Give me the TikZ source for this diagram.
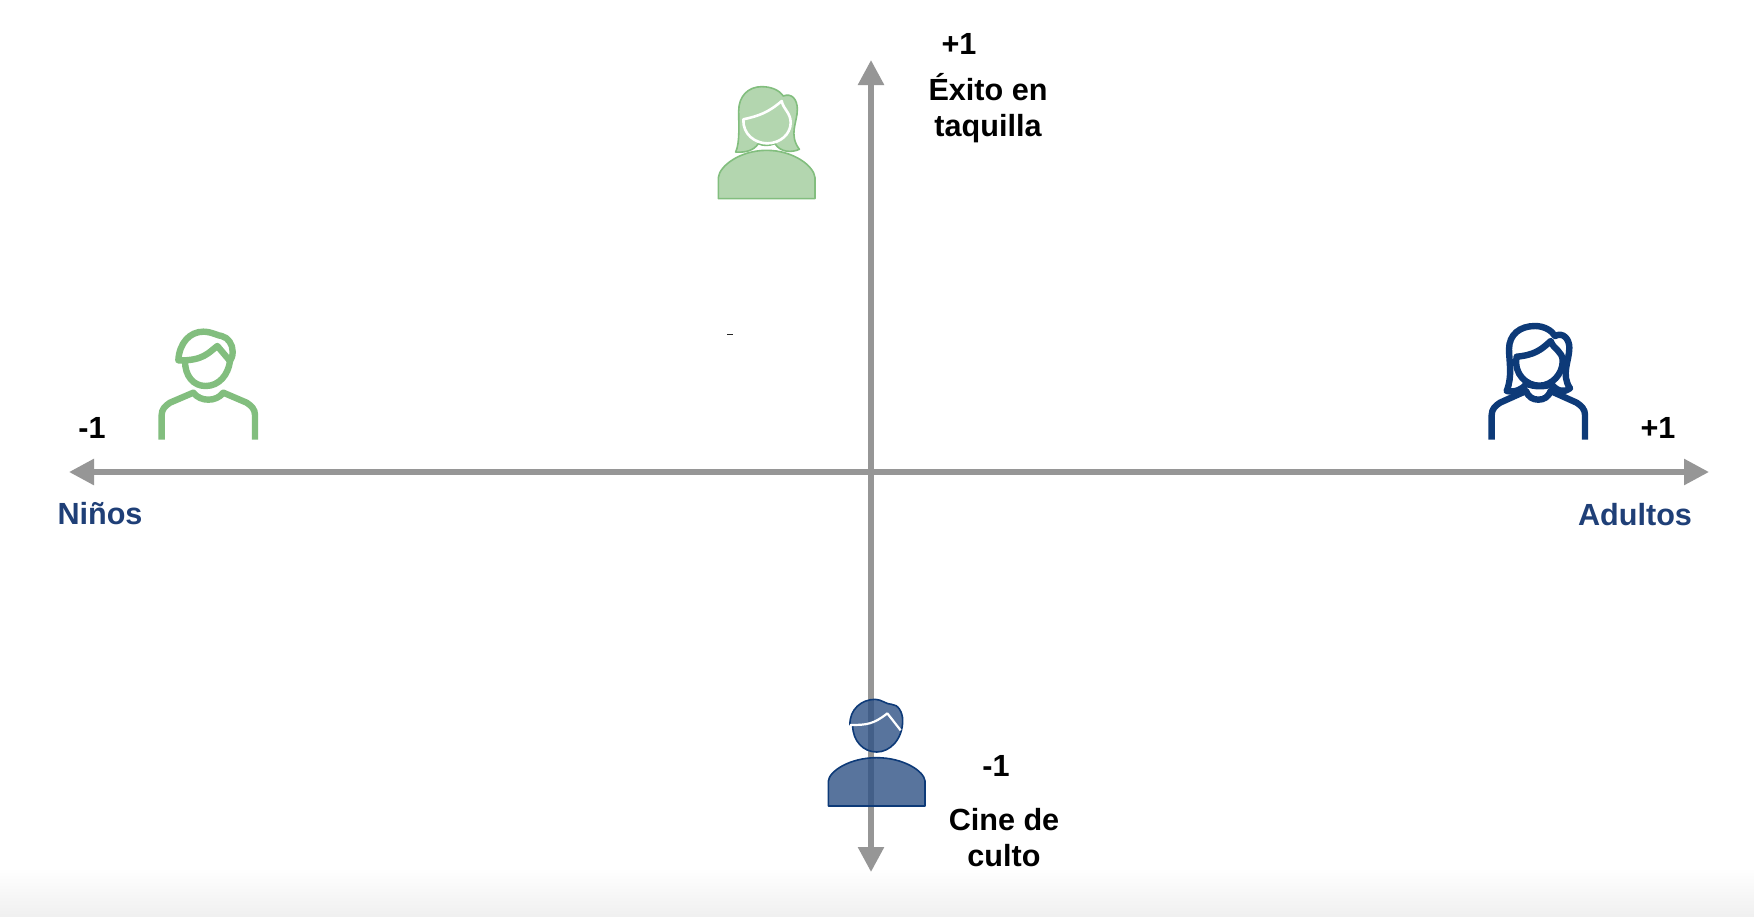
\documentclass[tikz,border=0pt]{standalone}
\usepackage{fontspec}
\setmainfont{Liberation Sans}
\usetikzlibrary{arrows.meta}
\definecolor{axisgray}{HTML}{969696}
\definecolor{lgreen}{HTML}{82BE7E}
\definecolor{fgreen}{HTML}{B3D6AF}
\definecolor{dblue}{HTML}{0D3A78}
\definecolor{fblue}{HTML}{2F5285}
\definecolor{lblue}{HTML}{1F3F77}
\tikzset{
  axisline/.style={draw=axisgray,line width=2.8pt,-{Triangle[length=12.5pt,width=12.5pt]},
    shorten >=0pt},
  lab/.style={font=\fontsize{15.3}{18}\selectfont\bfseries,anchor=base,inner sep=0pt,text=black},
  bluelab/.style={lab,text=lblue},
  zoomed/.style={x=0.16667pt,y=-0.16667pt},
  iconline/.style={line width=3.2pt,line join=round,line cap=butt,fill=none},
  softicon/.style={line width=0.8pt,line join=round}
}
\begin{document}
\begin{tikzpicture}[x=0.5pt,y=-0.5pt]
\useasboundingbox (0,0) rectangle (1754,916);
\fill[white] (0,0) rectangle (1754,916);
\shade[top color=white,bottom color=black!6,draw=none] (0,868) rectangle (1754,916);

% axes
\coordinate (xl) at (69,472);
\coordinate (xr) at (1709,472);
\coordinate (yt) at (871,60);
\coordinate (yb) at (871,872);
\coordinate (origin) at (871,472);
\draw[axisline] (origin) -- (xl);
\draw[axisline] (origin) -- (xr);
\draw[axisline] (origin) -- (yt);
\draw[axisline] (origin) -- (yb);

% top: filled green woman
\begin{scope}[shift={(690,71)},zoomed]
  \path[fill=fgreen,draw=lgreen,softicon]
    (85,383) -- (85,320) .. controls (88,285) and (150,238) .. (230,238)
    .. controls (310,238) and (372,285) .. (375,320) -- (375,383) -- cycle;
  \path[fill=fgreen,draw=lgreen,softicon]
    (137,243) .. controls (150,215) and (146,160) .. (146,120)
    .. controls (146,75) and (175,47) .. (215,47)
    .. controls (245,47) and (268,58) .. (280,75)
    .. controls (305,65) and (322,85) .. (322,115)
    .. controls (322,155) and (295,190) .. (328,235)
    .. controls (305,245) and (272,245) .. (255,218)
    .. controls (235,225) and (220,225) .. (205,218)
    .. controls (190,240) and (165,245) .. (137,243) -- cycle;
  \draw[white,line width=1.3pt,line join=round]
    (160,145) .. controls (205,135) and (235,125) .. (275,90)
    .. controls (280,115) and (302,125) .. (302,155)
    .. controls (302,190) and (270,217) .. (232,217)
    .. controls (195,217) and (158,190) .. (160,145) -- cycle;
\end{scope}

% left: outlined green boy
\begin{scope}[shift={(140,311)},zoomed]
  \draw[lgreen,iconline]
    (135,150) .. controls (135,195) and (160,225) .. (197,225)
    .. controls (238,225) and (265,190) .. (270,150);
  \draw[lgreen,iconline]
    (115,148) .. controls (118,95) and (150,62) .. (190,62)
    .. controls (215,62) and (235,75) .. (245,75)
    .. controls (265,80) and (278,100) .. (278,122)
    .. controls (278,135) and (275,142) .. (270,150)
    -- (232,105)
    .. controls (205,125) and (190,150) .. (115,148) -- cycle;
  \draw[lgreen,iconline]
    (65,386) -- (65,312) .. controls (65,295) and (75,285) .. (90,275)
    -- (160,245) .. controls (172,260) and (188,266) .. (205,266)
    .. controls (222,266) and (238,260) .. (250,245)
    -- (320,275) .. controls (335,285) and (345,295) .. (345,312) -- (345,386);
\end{scope}

% right: outlined blue woman
\begin{scope}[shift={(1470,311)},zoomed]
  \draw[dblue,iconline]
    (110,240) .. controls (128,195) and (117,150) .. (117,115)
    .. controls (117,70) and (150,45) .. (195,45)
    .. controls (222,45) and (245,58) .. (255,75)
    .. controls (280,62) and (298,85) .. (298,110)
    .. controls (298,150) and (272,190) .. (300,232)
    .. controls (285,245) and (262,242) .. (245,220)
    .. controls (225,228) and (190,228) .. (170,218)
    .. controls (158,235) and (135,245) .. (110,240) -- cycle;
  \draw[dblue,iconline]
    (140,137) .. controls (195,132) and (215,115) .. (242,90)
    .. controls (250,115) and (278,120) .. (278,150)
    .. controls (278,190) and (245,224) .. (208,224)
    .. controls (170,224) and (130,190) .. (140,137) -- cycle;
  \draw[dblue,iconline]
    (65,386) -- (65,312) .. controls (65,295) and (75,285) .. (90,275)
    -- (168,240) .. controls (175,258) and (188,266) .. (205,266)
    .. controls (222,266) and (235,258) .. (242,240)
    -- (320,275) .. controls (335,285) and (345,295) .. (345,312) -- (345,386);
\end{scope}

% bottom: filled blue man
\begin{scope}[shift={(810,681)},zoomed]
  \path[fill=fblue,fill opacity=0.8,draw=dblue,softicon]
    (55,375) -- (55,300) .. controls (58,270) and (120,230) .. (200,230)
    .. controls (280,230) and (342,270) .. (345,300) -- (345,375) -- cycle;
  \path[fill=fblue,fill opacity=0.8,draw=dblue,softicon]
    (120,131) .. controls (118,85) and (155,55) .. (195,55)
    .. controls (215,55) and (228,70) .. (245,70)
    .. controls (265,70) and (278,95) .. (278,118)
    .. controls (278,175) and (240,213) .. (200,213)
    .. controls (160,213) and (128,180) .. (128,133) -- cycle;
  \draw[white,line width=1.1pt,line join=round]
    (120,132) .. controls (170,132) and (190,130) .. (232,97) -- (272,148);
\end{scope}

% stray dash
\fill[black!85] (727,334) rectangle (733,335);

% labels
\node[lab] (ptop) at (959,54) {+1};
\node[lab,align=center] (exito) at (988,136) {Éxito en\\taquilla};
\node[lab] (mleft) at (92,438) {-1};
\node[lab] (pright) at (1658,438) {+1};
\node[bluelab] (ninos) at (100,524) {Niños};
\node[bluelab] (adultos) at (1635,525) {Adultos};
\node[lab] (mbot) at (996,776) {-1};
\node[lab,align=center] (cine) at (1004,866) {Cine de\\culto};
\end{tikzpicture}
\end{document}
